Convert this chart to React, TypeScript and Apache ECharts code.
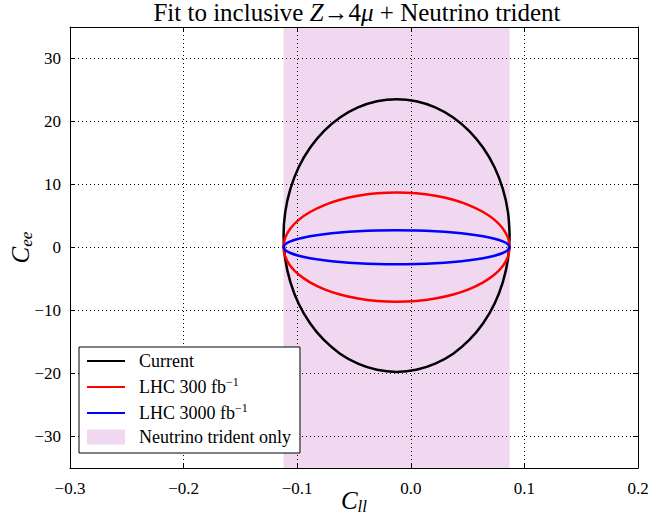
import React, { useEffect, useRef } from "react";
import * as echarts from "echarts";

// Ellipse contours (C_ll, C_ee), traced counter-clockwise
const contourX = [
  0.087, 0.0855, 0.081, 0.0737, 0.0637, 0.0515, 0.0373, 0.0215, 0.0048, -0.0125,
  -0.0298, -0.0465, -0.0623, -0.0765, -0.0887, -0.0987, -0.106, -0.1105, -0.112,
  -0.1105, -0.106, -0.0987, -0.0887, -0.0765, -0.0623, -0.0465, -0.0298, -0.0125,
  0.0048, 0.0215, 0.0373, 0.0515, 0.0637, 0.0737, 0.081, 0.0855, 0.087,
];
const currentY = [
  1.9, 5.66, 9.3, 12.73, 15.82, 18.48, 20.65, 22.24, 23.22, 23.55, 23.22, 22.24, 20.65,
  18.48, 15.82, 12.73, 9.3, 5.66, 1.9, -1.86, -5.5, -8.93, -12.02, -14.68, -16.85,
  -18.44, -19.42, -19.75, -19.42, -18.44, -16.85, -14.68, -12.02, -8.93, -5.5, -1.86, 1.9,
];
const lhc300Y = [
  0.05, 1.56, 3.02, 4.39, 5.63, 6.7, 7.57, 8.21, 8.6, 8.73, 8.6, 8.21, 7.57, 6.7, 5.63,
  4.39, 3.02, 1.56, 0.05, -1.46, -2.92, -4.29, -5.53, -6.6, -7.47, -8.11, -8.5, -8.63,
  -8.5, -8.11, -7.47, -6.6, -5.53, -4.29, -2.92, -1.46, 0.05,
];
const lhc3000Y = [
  0.05, 0.52, 0.97, 1.4, 1.79, 2.12, 2.39, 2.59, 2.71, 2.75, 2.71, 2.59, 2.39, 2.12, 1.79,
  1.4, 0.97, 0.52, 0.05, -0.42, -0.87, -1.3, -1.69, -2.02, -2.29, -2.49, -2.61, -2.65,
  -2.61, -2.49, -2.29, -2.02, -1.69, -1.3, -0.87, -0.42, 0.05,
];
const tridentBand = [-0.112, 0.087];
const seriesNames = ["Current", "LHC 300 fb\u22121", "LHC 3000 fb\u22121", "Neutrino trident only"];
const seriesColors = ["#000000", "#ff0000", "#0000ff", "#f0d8f0"];

const SERIF = "'Liberation Serif', 'DejaVu Serif', serif";
const MINUS = "\u2212";

function fmt(v: number, digits: number) {
  if (Math.abs(v) < 1e-9) return (0).toFixed(digits);
  const s = v.toFixed(digits);
  return s.replace("-", MINUS);
}

export default function App() {
  const ref = useRef<HTMLDivElement>(null);
  useEffect(() => {
    if (!ref.current) return;
    const chart = echarts.init(ref.current, null, { renderer: "svg" });
    const pairs = (ys: number[]) => contourX.map((x, i) => [x, ys[i]]);
    const lineSeries = (name: string, color: string, ys: number[]) => ({
      type: "line",
      name,
      data: pairs(ys),
      showSymbol: false,
      symbol: "none",
      smooth: 0.33,
      lineStyle: { color, width: 2.5, join: "round" },
      itemStyle: { color },
      z: 2,
    });
    const axisCommon = {
      type: "value",
      axisLine: { show: true, onZero: false, lineStyle: { color: "#000", width: 1 } },
      axisTick: { show: true, inside: true, length: 5, lineStyle: { color: "#000", width: 1 } },
      z: 3,
    };
    const nameRich = {
      c: { fontFamily: SERIF, fontStyle: "italic", fontSize: 25, color: "#000" },
      s: { fontFamily: SERIF, fontStyle: "italic", fontSize: 17, color: "#000", padding: [12, 0, 0, 0] },
    };
    chart.setOption({
      animation: false,
      backgroundColor: "#fff",
      title: {
        text: "{n|Fit to inclusive }{i|Z}{n|\u21924}{i|\u03bc}{n| + Neutrino trident}",
        left: 352,
        top: -5,
        textAlign: "center",
        textStyle: {
          fontWeight: "normal",
          rich: {
            n: { fontFamily: SERIF, fontSize: 25, fontWeight: "normal", color: "#000" },
            i: { fontFamily: SERIF, fontSize: 25, fontWeight: "normal", fontStyle: "italic", color: "#000" },
          },
        },
      },
      grid: { left: 70, right: 12, top: 27, bottom: 56, containLabel: false, outerBoundsMode: "none" },
      legend: {
        orient: "vertical",
        left: 79,
        top: 347,
        padding: [5, 9, 7, 7],
        itemGap: 6,
        itemWidth: 38,
        itemHeight: 15,
        backgroundColor: "#fff",
        borderColor: "#000",
        borderWidth: 1,
        borderRadius: 0,
        data: [
          { name: seriesNames[0], itemStyle: { opacity: 0 } },
          { name: seriesNames[1], itemStyle: { opacity: 0 } },
          { name: seriesNames[2], itemStyle: { opacity: 0 } },
          { name: seriesNames[3], icon: "rect", itemStyle: { color: seriesColors[3], opacity: 1 } },
        ],
        formatter: (name: string) => {
          if (name.endsWith("\u22121")) return `{t|${name.slice(0, -2)}}{s|\u22121}`;
          return `{t|${name}}`;
        },
        textStyle: {
          padding: [0, 0, 0, 9],
          rich: {
            t: { fontFamily: SERIF, fontSize: 18, color: "#000", lineHeight: 20 },
            s: { fontFamily: SERIF, fontSize: 12, color: "#000", padding: [0, 0, 10, 0] },
          },
        },
      },
      xAxis: [
        {
          ...axisCommon,
          position: "bottom",
          min: -0.3,
          max: 0.2,
          interval: 0.1,
          axisLabel: {
            fontFamily: SERIF,
            fontSize: 17,
            color: "#000",
            margin: 12,
            formatter: (v: number) => fmt(v, 1),
          },
          splitLine: { show: true, lineStyle: { color: "#000", width: 1, type: [1, 3] } },
          name: "{c|C}{s|ll}",
          nameLocation: "middle",
          nameGap: 18,
          nameMoveOverlap: false,
          nameTextStyle: { rich: nameRich },
        },
        {
          ...axisCommon,
          position: "top",
          min: -0.3,
          max: 0.2,
          interval: 0.1,
          axisLabel: { show: false },
          splitLine: { show: false },
        },
      ],
      yAxis: [
        {
          ...axisCommon,
          position: "left",
          min: -35,
          max: 35,
          splitNumber: 7,
          axisLabel: {
            fontFamily: SERIF,
            fontSize: 17,
            color: "#000",
            margin: 9,
            showMinLabel: false,
            showMaxLabel: false,
            formatter: (v: number) => fmt(v, 0),
          },
          splitLine: { show: true, lineStyle: { color: "#000", width: 1, type: [1, 3] } },
          name: "{c|C}{s|ee}",
          nameLocation: "middle",
          nameGap: 35,
          nameMoveOverlap: false,
          nameTextStyle: { rich: nameRich },
        },
        {
          ...axisCommon,
          position: "right",
          min: -35,
          max: 35,
          splitNumber: 7,
          axisLabel: { show: false },
          splitLine: { show: false },
        },
      ],
      series: [
        {
          type: "line",
          name: seriesNames[3],
          data: [],
          symbol: "none",
          lineStyle: { color: seriesColors[3] },
          itemStyle: { color: seriesColors[3] },
          z: 1,
          markArea: {
            silent: true,
            itemStyle: { color: seriesColors[3], opacity: 1 },
            data: [[{ xAxis: tridentBand[0] }, { xAxis: tridentBand[1] }]],
          },
        },
        lineSeries(seriesNames[0], seriesColors[0], currentY),
        lineSeries(seriesNames[1], seriesColors[1], lhc300Y),
        lineSeries(seriesNames[2], seriesColors[2], lhc3000Y),
      ],
    });
    return () => chart.dispose();
  }, []);
  return (
    <div
      ref={ref}
      style={{ position: "fixed", left: 0, top: 0, width: 650, height: 524 }}
    />
  );
}
